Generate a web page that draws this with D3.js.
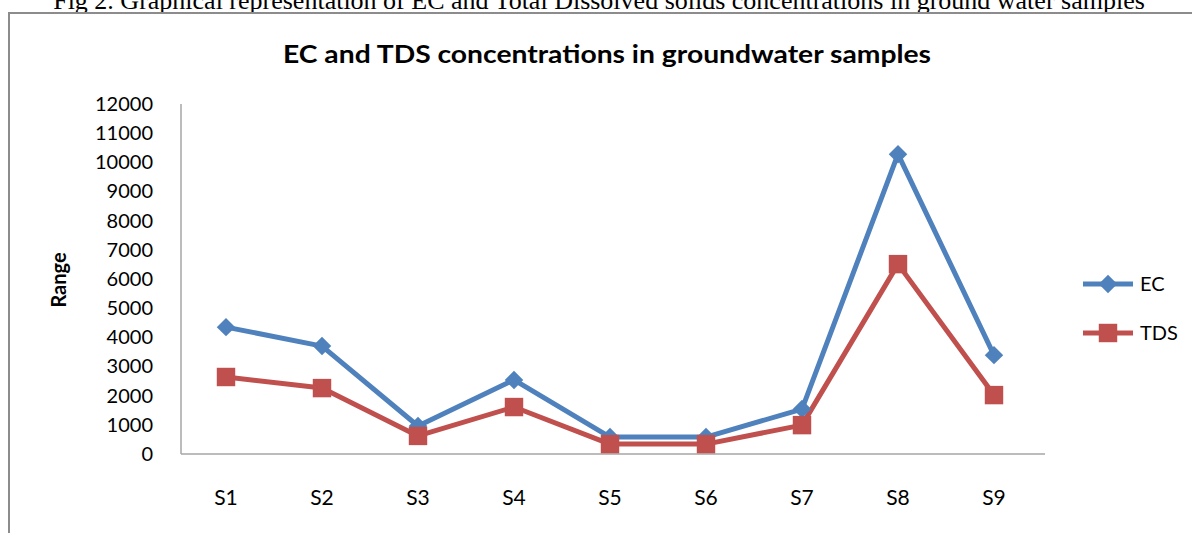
<!DOCTYPE html>
<html>
<head>
<meta charset="utf-8">
<script src="https://cdn.jsdelivr.net/npm/d3@7"></script>
<style>
  body { margin: 0; background: #fff; }
  svg { display: block; }
</style>
</head>
<body>
<script>
let width = 1192,
    height = 533;

// data
let samples = ["S1", "S2", "S3", "S4", "S5", "S6", "S7", "S8", "S9"];
let ecValues = [4350, 3700, 960, 2540, 580, 580, 1540, 10280, 3390];
let tdsValues = [2640, 2260, 620, 1610, 340, 340, 990, 6510, 2020];
let yTicks = [0, 1000, 2000, 3000, 4000, 5000, 6000, 7000, 8000, 9000, 10000, 11000, 12000];

let blue = "#4F81BD",
    red = "#C0504D";

let svg = d3.select("body").append("svg")
    .attr("width", width)
    .attr("height", height);

// caption above the figure box (cut off at the top, as in the scan)
svg.append("text")
    .attr("x", 599)
    .attr("y", 9)
    .attr("text-anchor", "middle")
    .attr("font-family", "Liberation Serif, serif")
    .attr("font-size", 26)
    .text("Fig 2. Graphical representation of EC and Total Dissolved solids concentrations in ground water samples");

// outer chart frame
svg.append("rect")
    .attr("x", 9)
    .attr("y", 13)
    .attr("width", 1200)
    .attr("height", 540)
    .attr("fill", "none")
    .attr("stroke", "#8c8c8c")
    .attr("stroke-width", 2);

svg.append("text")
    .attr("x", 607)
    .attr("y", 63)
    .attr("text-anchor", "middle")
    .attr("font-family", "Lato, sans-serif")
    .attr("font-weight", "bold")
    .attr("font-size", 25)
    .attr("textLength", 648)
    .attr("lengthAdjust", "spacingAndGlyphs")
    .text("EC and TDS concentrations in groundwater samples");

let plotLeft = 181, plotRight = 1045, plotTop = 104, plotBottom = 454;

let x = d3.scaleBand().domain(samples).range([plotLeft, plotRight]);
let y = d3.scaleLinear().domain([0, 12000]).range([plotBottom, plotTop]);

// axes lines
svg.append("line")
    .attr("x1", plotLeft).attr("x2", plotLeft)
    .attr("y1", plotTop).attr("y2", plotBottom)
    .attr("stroke", "#a6a6a6").attr("stroke-width", 1.5);
svg.append("line")
    .attr("x1", plotLeft).attr("x2", plotRight)
    .attr("y1", plotBottom).attr("y2", plotBottom)
    .attr("stroke", "#a6a6a6").attr("stroke-width", 1.5);

let yAxis = svg.append("g")
    .attr("transform", "translate(" + (plotLeft - 25) + ",0)")
    .call(d3.axisLeft(y).tickValues(yTicks).tickSize(0).tickFormat(d3.format("d")));
yAxis.select(".domain").remove();
yAxis.selectAll("text")
    .attr("font-family", "Lato, sans-serif")
    .attr("font-size", 20)
    .attr("fill", "#000");

let xAxis = svg.append("g")
    .attr("transform", "translate(-3," + (plotBottom + 33) + ")")
    .call(d3.axisBottom(x).tickSize(0));
xAxis.select(".domain").remove();
xAxis.selectAll("text")
    .attr("font-family", "Lato, sans-serif")
    .attr("font-size", 21)
    .attr("fill", "#000");

svg.append("text")
    .attr("transform", "translate(66,280) rotate(-90)")
    .attr("text-anchor", "middle")
    .attr("font-family", "Lato, sans-serif")
    .attr("font-weight", "bold")
    .attr("font-size", 20)
    .text("Range");

let cx = (d, i) => x(samples[i]) + x.bandwidth() / 2 - 3;

let line = d3.line()
    .x(cx)
    .y(d => y(d));

// EC marker: a square turned 45 degrees, TDS marker: a plain square
let series = [
    { name: "EC", values: ecValues, color: blue, symbol: d3.symbolSquare, size: 170, rot: 45 },
    { name: "TDS", values: tdsValues, color: red, symbol: d3.symbolSquare, size: 340, rot: 0 }
];

series.forEach(s => {
    svg.append("path")
        .attr("d", line(s.values))
        .attr("fill", "none")
        .attr("stroke", s.color)
        .attr("stroke-width", 5)
        .attr("stroke-linejoin", "round");
});

series.forEach(s => {
    svg.selectAll(".m-" + s.name)
        .data(s.values)
        .enter().append("path")
        .attr("class", "m-" + s.name)
        .attr("d", d3.symbol().type(s.symbol).size(s.size))
        .attr("transform", (d, i) => "translate(" + cx(d, i) + "," + y(d) + ") rotate(" + s.rot + ")")
        .attr("fill", s.color);
});

// legend
let legend = svg.append("g");
series.forEach((s, i) => {
    let ly = 284 + i * 49;
    legend.append("line")
        .attr("x1", 1083).attr("x2", 1133)
        .attr("y1", ly).attr("y2", ly)
        .attr("stroke", s.color).attr("stroke-width", 5);
    legend.append("path")
        .attr("d", d3.symbol().type(s.symbol).size(s.size))
        .attr("transform", "translate(1108," + ly + ") rotate(" + s.rot + ")")
        .attr("fill", s.color);
    legend.append("text")
        .attr("x", 1140)
        .attr("y", ly + 7)
        .attr("font-family", "Lato, sans-serif")
        .attr("font-size", 20)
        .text(s.name);
});
</script>
</body>
</html>
